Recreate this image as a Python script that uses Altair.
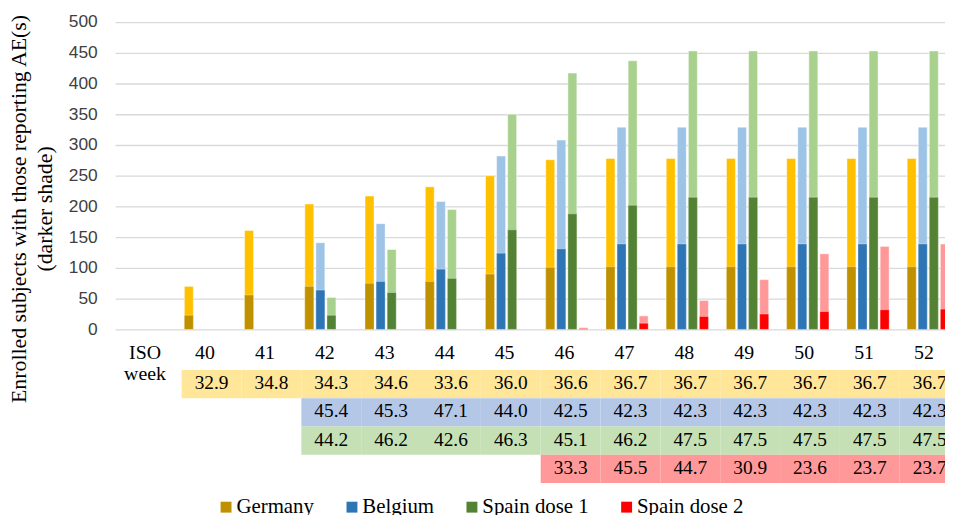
import altair as alt
import pandas as pd

# ---------------- data ----------------
weeks = ["40", "41", "42", "43", "44", "45", "46", "47", "48", "49", "50", "51", "52"]
x_domain = ["ISO"] + weeks
header_labels = ["ISO\nweek"] + weeks
series = ["Germany", "Belgium", "Spain dose 1", "Spain dose 2"]

germany_weeks = weeks
germany_total = [70, 161, 204, 217, 232, 250, 276, 278, 278, 278, 278, 278, 278]
germany_ae = [23, 56, 70, 75, 78, 90, 101, 102, 102, 102, 102, 102, 102]
germany_pct = [32.9, 34.8, 34.3, 34.6, 33.6, 36.0, 36.6, 36.7, 36.7, 36.7, 36.7, 36.7, 36.7]

belgium_weeks = weeks[2:]
belgium_total = [141, 172, 208, 282, 308, 329, 329, 329, 329, 329, 329]
belgium_ae = [64, 78, 98, 124, 131, 139, 139, 139, 139, 139, 139]
belgium_pct = [45.4, 45.3, 47.1, 44.0, 42.5, 42.3, 42.3, 42.3, 42.3, 42.3, 42.3]

spain1_weeks = weeks[2:]
spain1_total = [52, 130, 195, 350, 417, 437, 453, 453, 453, 453, 453]
spain1_ae = [23, 60, 83, 162, 188, 202, 215, 215, 215, 215, 215]
spain1_pct = [44.2, 46.2, 42.6, 46.3, 45.1, 46.2, 47.5, 47.5, 47.5, 47.5, 47.5]

spain2_weeks = weeks[6:]
spain2_total = [3, 22, 47, 81, 123, 135, 139]
spain2_ae = [1, 10, 21, 25, 29, 32, 33]
spain2_pct = [33.3, 45.5, 44.7, 30.9, 23.6, 23.7, 23.7]

dark_colors = ["#BF9000", "#2E75B6", "#548235", "#FF0000"]
light_colors = ["#FFC000", "#9DC3E6", "#A9D18E", "#FF9999"]
table_colors = ["#FFE699", "#B4C7E7", "#C5E0B4", "#FF9999"]

# ---------------- tables ----------------
groups = [
    ("Germany", germany_weeks, germany_total, germany_ae, germany_pct),
    ("Belgium", belgium_weeks, belgium_total, belgium_ae, belgium_pct),
    ("Spain dose 1", spain1_weeks, spain1_total, spain1_ae, spain1_pct),
    ("Spain dose 2", spain2_weeks, spain2_total, spain2_ae, spain2_pct),
]
rows = []
for name, wk, tot, ae, pct in groups:
    for w, t, a, p in zip(wk, tot, ae, pct):
        rows.append({"week": w, "series": name, "total": t, "ae": a, "pct": p})
df = pd.DataFrame(rows)
hdr = pd.DataFrame({"week": x_domain, "label": header_labels, "row": "header"})

serif = "Liberation Serif"
sans = "Liberation Sans"

bar_x = alt.Scale(domain=x_domain, range=[0, 850.5], paddingInner=0, paddingOuter=0)
hdr_x = alt.Scale(domain=x_domain, range=[0, 846], paddingInner=0, paddingOuter=0)
tab_x = alt.Scale(domain=x_domain, range=[6.8, 851.7], paddingInner=0, paddingOuter=0)
xoff_scale = alt.Scale(domain=series, paddingInner=0.19, paddingOuter=0.815)
y_scale = alt.Scale(domain=[0, 500], nice=False)
row_scale = alt.Scale(domain=series, range=[351, 465], paddingInner=0, paddingOuter=0)
hdr_y = alt.Scale(domain=["header"], range=[322.5, 351], paddingInner=0, paddingOuter=0)

y_axis = alt.Axis(
    values=list(range(0, 501, 50)),
    title=["Enrolled subjects with those reporting AE(s)", "(darker shade)"],
    titleFont=serif, titleFontSize=22, titleFontWeight="normal", titleColor="black",
    titleX=-97, titleY=188, titleBaseline="middle", titleAlign="center",
    titleLineHeight=26,
    labelFont=sans, labelFontSize=17.5, labelColor="#404040", labelPadding=18,
    domain=False, ticks=False, gridColor="#D9D9D9", gridWidth=1.3,
)

base = alt.Chart(df)
light = base.mark_bar(stroke="white", strokeWidth=1, strokeOpacity=0.45).encode(
    x=alt.X("week:N", scale=bar_x, axis=None),
    xOffset=alt.XOffset("series:N", scale=xoff_scale),
    y=alt.Y("total:Q", scale=y_scale, axis=y_axis),
    fill=alt.Fill("series:N", scale=alt.Scale(domain=series, range=light_colors), legend=None),
)
dark = base.mark_bar(stroke="white", strokeWidth=1, strokeOpacity=0.3).encode(
    x=alt.X("week:N", scale=bar_x, axis=None),
    xOffset=alt.XOffset("series:N", scale=xoff_scale),
    y=alt.Y("ae:Q", scale=y_scale, axis=None),
    color=alt.Color(
        "series:N", scale=alt.Scale(domain=series, range=dark_colors),
        legend=alt.Legend(
            title=None, orient="none", legendX=101.4, legendY=478.5,
            direction="horizontal", symbolType="square", symbolSize=121,
            symbolStrokeWidth=0, symbolOpacity=1, labelFont=serif, labelFontSize=21,
            labelColor="black", labelOffset=0, columnPadding=27, padding=0,
        ),
    ),
)

header = alt.Chart(hdr).mark_text(
    font=serif, fontSize=20, color="black", baseline="top", dy=-12.5,
    lineBreak="\n", lineHeight=21,
).encode(
    x=alt.X("week:N", scale=hdr_x, axis=None),
    y=alt.Y("row:N", scale=hdr_y, axis=None),
    text="label:N",
)

cells = alt.Chart(df).mark_rect().encode(
    x=alt.X("week:N", scale=tab_x, axis=None),
    y=alt.Y("series:N", scale=row_scale, axis=None),
    fill=alt.Fill("series:N", scale=alt.Scale(domain=series, range=table_colors), legend=None),
)
cell_text = alt.Chart(df).mark_text(
    dy=-1, font=serif, fontSize=19.5, color="black", baseline="middle"
).encode(
    x=alt.X("week:N", scale=tab_x, axis=None),
    y=alt.Y("series:N", scale=row_scale, axis=None),
    text=alt.Text("pct:Q", format=".1f"),
)

chart = alt.layer(light, dark, header, cells, cell_text).resolve_scale(
    x="independent", y="independent", fill="independent"
).properties(
    width=837, height=310,
    autosize=alt.AutoSizeParams(type="none"),
    padding={"left": 108, "top": 12, "right": 0, "bottom": 185},
    background="white",
).configure_view(stroke=None)

chart.save("out.html", embed_options={"renderer": "svg", "actions": False})
